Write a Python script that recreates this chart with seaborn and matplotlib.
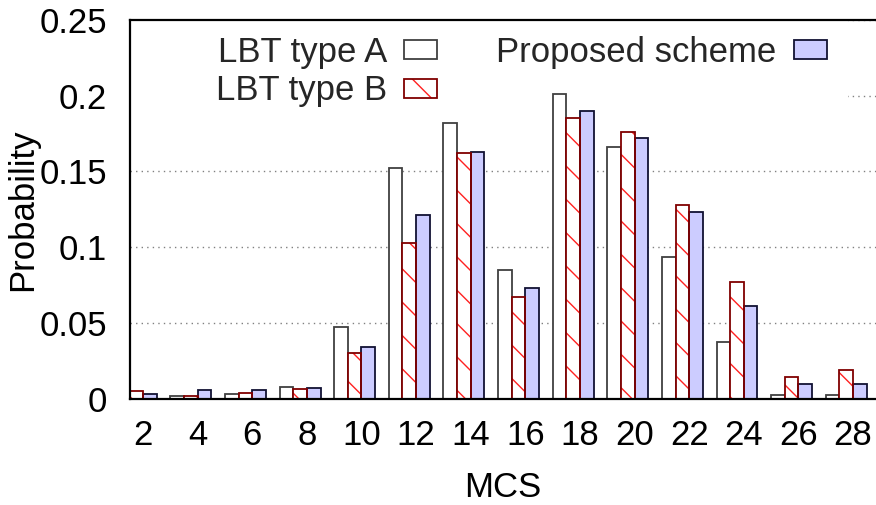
import numpy as np
import pandas as pd
import matplotlib
matplotlib.use("Agg")
import matplotlib.pyplot as plt
from matplotlib.patches import Patch, Rectangle
from matplotlib.ticker import FixedLocator, FixedFormatter
import seaborn as sns

# MCS index on the x axis
mcs = [2, 4, 6, 8, 10, 12, 14, 16, 18, 20, 22, 24, 26, 28]

# Probability of each MCS for the three schemes
lbt_type_a = [0.005, 0.0017, 0.003, 0.0075, 0.047, 0.152, 0.182, 0.085,
              0.201, 0.166, 0.0935, 0.0375, 0.0025, 0.0025]
lbt_type_b = [0.005, 0.0017, 0.0037, 0.0062, 0.030, 0.103, 0.162, 0.067,
              0.185, 0.176, 0.128, 0.077, 0.0145, 0.0187]
proposed = [0.003, 0.0055, 0.0055, 0.0068, 0.034, 0.121, 0.163, 0.073,
            0.190, 0.172, 0.123, 0.061, 0.010, 0.010]

series_names = ["LBT type A", "LBT type B", "Proposed scheme"]
y_ticks = [0, 0.05, 0.1, 0.15, 0.2, 0.25]
y_tick_labels = ["0", "0.05", "0.1", "0.15", "0.2", "0.25"]

# long-form table; an empty spacer level leaves a gap after each cluster
spacer = " "
rows = []
for name, vals in zip(series_names, [lbt_type_a, lbt_type_b, proposed]):
    for m, v in zip(mcs, vals):
        rows.append({"MCS": str(m), "scheme": name, "Probability": v})
for m in mcs:
    rows.append({"MCS": str(m), "scheme": spacer, "Probability": 0.0})
df = pd.DataFrame(rows)

sns.set_theme(style="white")
plt.rcParams["font.family"] = ["Liberation Sans", "DejaVu Sans"]
plt.rcParams["hatch.linewidth"] = 1.0

FS = 25
fig = plt.figure(figsize=(8.76, 5.05), dpi=100)
W, H = 876, 505
ax = fig.add_axes([130 / W, 1 - 398.65 / H, 746 / W, 378.65 / H])

fill_a = "#ffffff"
fill_c = "#ccccff"
edge_a = "#404040"
edge_b = "#800000"
hatch_b = "#ff2020"
edge_c = "#111133"

sns.barplot(data=df, x="MCS", y="Probability", hue="scheme",
            hue_order=series_names + [spacer],
            order=[str(m) for m in mcs],
            palette=[fill_a, "#ffffff", fill_c, "#ffffff"],
            width=1.0, gap=0, dodge=True, errorbar=None,
            saturation=1, legend=False, ax=ax, zorder=2)

cont_a, cont_b, cont_c, cont_s = ax.containers[:4]
for p in cont_a:
    p.set_edgecolor(edge_a)
    p.set_linewidth(1.3)
for p in cont_c:
    p.set_edgecolor(edge_c)
    p.set_linewidth(1.3)
for p in cont_s:
    p.remove()
for p in cont_b:
    # hatch drawn in red, outline drawn on top in dark red
    p.set_facecolor("white")
    p.set_edgecolor(hatch_b)
    p.set_linewidth(0)
    p.set_hatch("\\")
    outline = Rectangle(p.get_xy(), p.get_width(), p.get_height(),
                        fill=False, edgecolor=edge_b, linewidth=1.3,
                        zorder=2.1)
    ax.add_patch(outline)

ax.set_xlim(-0.238, 13.42)
ax.set_ylim(0, 0.25)

# grid
ax.set_axisbelow(True)
ax.yaxis.set_major_locator(FixedLocator(y_ticks))
ax.yaxis.set_major_formatter(FixedFormatter(y_tick_labels))
ax.grid(axis="y", color="#808080", linestyle=(0, (1, 3)), linewidth=1.0)
ax.grid(axis="x", visible=False)

# key background hides the grid behind the key
ax.add_patch(Rectangle((0, 0.74), 0.9625, 0.26, transform=ax.transAxes,
                       facecolor="white", edgecolor="none", zorder=0.8))

for side in ["left", "top", "bottom"]:
    ax.spines[side].set_color("black")
    ax.spines[side].set_linewidth(1.6)
    ax.spines[side].set_zorder(3)
ax.spines["right"].set_visible(False)

ax.tick_params(axis="both", length=0, labelsize=FS, colors="black")
ax.tick_params(axis="y", pad=16.5)
ax.tick_params(axis="x", pad=15.0)
ax.set_xlabel("MCS", fontsize=FS, labelpad=13, color="black")
ax.set_ylabel("Probability", fontsize=FS, labelpad=0, color="black")

handles = [
    Patch(facecolor=fill_a, edgecolor=edge_a, linewidth=1.3),
    (Patch(facecolor="white", edgecolor=hatch_b, linewidth=0, hatch="\\"),
     Patch(facecolor="none", edgecolor=edge_b, linewidth=1.3)),
    Patch(facecolor=fill_c, edgecolor=edge_c, linewidth=1.3),
]
leg = ax.legend(handles, series_names, ncol=2, markerfirst=False,
                loc="upper left", bbox_to_anchor=(86 / 746, 0.959),
                frameon=False, fontsize=FS, borderpad=0,
                handlelength=0.95, handleheight=0.47, handletextpad=0.5,
                columnspacing=1.7, labelspacing=0.17, borderaxespad=0)

fig.savefig("out.png", dpi=100)
